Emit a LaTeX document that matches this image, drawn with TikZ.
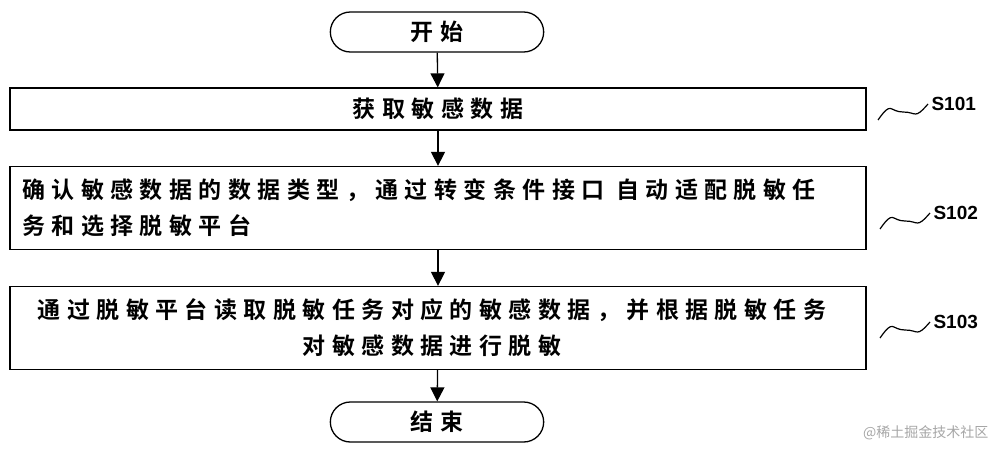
\documentclass[tikz,border=0pt]{standalone}
\usepackage{fontspec}
\newfontfamily\cjk{Noto Sans CJK SC}[BoldFont={Noto Sans CJK SC Bold},LetterSpace=28]
\newfontfamily\cjkw{Noto Sans CJK SC}
\setmainfont{Liberation Sans}
\usetikzlibrary{arrows.meta,shapes.misc,calc}
\begin{document}
\begin{tikzpicture}[x=1pt,y=-1pt,
  every node/.style={font=\cjk\bfseries\fontsize{23}{36}\selectfont},
  term/.style={draw,line width=1.3pt,rounded rectangle,minimum width=220pt,minimum height=40pt},
  boxn/.style={draw,line width=1.3pt,minimum width=856pt,inner sep=0pt},
  arr/.style={line width=1.3pt,-{Triangle[length=14pt,width=14pt]}},
  lbl/.style={font=\bfseries\fontsize{19}{22}\selectfont\rmfamily}]
\useasboundingbox (0,0) rectangle (1000,455);
\node[term] (s) at (437,32) {开始};
\node[boxn,minimum height=42pt] (b1) at (438,109) {获取敏感数据};
\node[boxn,minimum height=83pt] (b2) at (438,208) {};
\node[align=left,anchor=west,inner sep=0pt] (t2) at (22,208) {确认敏感数据的数据类型，通过转变条件接口 自动适配脱敏任\\务和选择脱敏平台};
\node[boxn,minimum height=83pt] (b3) at (438,328) {};
\node[align=center] (t3) at (432,328) {通过脱敏平台读取脱敏任务对应的敏感数据，并根据脱敏任务\\对敏感数据进行脱敏};
\node[term] (e) at (437,422) {结束};
\draw[arr] (s) -- (b1);
\draw[arr] (b1) -- (b2);
\draw[arr] (b2) -- (b3);
\draw[arr] (b3) -- (e);
\node[lbl,anchor=west] (l1) at (928,104) {S101};
\node[lbl,anchor=west] (l2) at (930,213) {S102};
\node[lbl,anchor=west] (l3) at (930,322) {S103};
\coordinate (c1) at (878,120);
\coordinate (c2) at (880,229);
\coordinate (c3) at (880,338);
\foreach \c/\l in {c1/l1,c2/l2,c3/l3}
  \draw[line width=1.2pt] (\c) .. controls +(14,-20) and +(-14,0) .. ($(\c)!0.5!(\l.west)$) .. controls +(14,0) and +(-14,16) .. (\l.west);
\node[font=\cjkw\fontsize{14}{16}\selectfont,text=gray!70,anchor=east] (w) at (992,433) {@稀土掘金技术社区};
\end{tikzpicture}
\end{document}
